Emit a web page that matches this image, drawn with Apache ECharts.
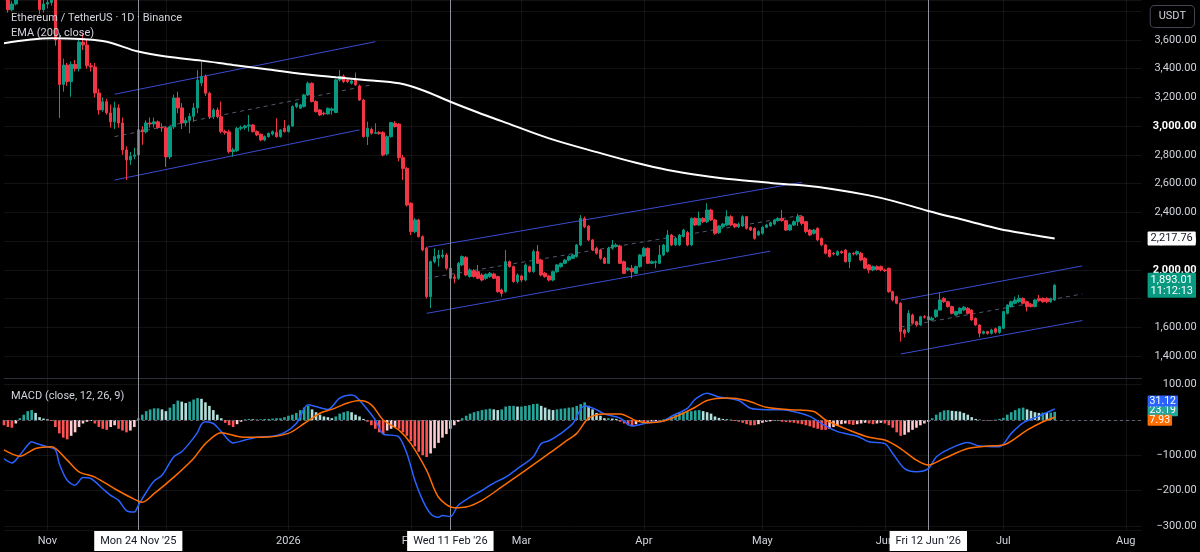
<!DOCTYPE html>
<html>
<head>
<meta charset="utf-8">
<script src="https://cdn.jsdelivr.net/npm/echarts@6/dist/echarts.min.js"></script>
<style>
  html, body { margin: 0; padding: 0; background: #000; }
  #chart { width: 1200px; height: 552px; }
</style>
</head>
<body>
<div id="chart"></div>
<script>
// ETH/USDT daily, first candle 2025-10-21; the axis runs on to 2026-08-05
const startDay = [2025, 9, 21];
const endDay = [2026, 7, 5];

// [open, close, low, high] one row per day
const candles = [
  [3990, 3880, 3840, 4100], [3880, 3810, 3790, 3900], [3810, 3850, 3800, 3870], [3850, 3880, 3840, 3950], [3930, 3950, 3900, 3980],
  [3950, 4160, 3930, 4170], [4160, 4120, 4100, 4250], [4120, 3980, 3900, 4170], [3980, 3900, 3880, 4030], [3900, 3810, 3780, 3920],
  // 10
  [3810, 3850, 3790, 3880], [3850, 3860, 3820, 3880], [3860, 3880, 3840, 3900], [3880, 3600, 3560, 3900], [3600, 3290, 3057, 3650],
  [3290, 3425, 3240, 3470], [3425, 3310, 3280, 3440], [3310, 3430, 3204, 3450], [3430, 3400, 3380, 3460], [3400, 3585, 3380, 3600],
  // 20
  [3585, 3565, 3530, 3650], [3565, 3420, 3400, 3600], [3420, 3412, 3380, 3440], [3412, 3231, 3200, 3440], [3231, 3113, 3080, 3260],
  [3113, 3170, 3100, 3200], [3170, 3092, 3080, 3190], [3092, 3030, 2990, 3150], [3030, 3127, 2980, 3170], [3127, 3022, 2990, 3150],
  // 30
  [3022, 2834, 2800, 3060], [2834, 2765, 2625, 2860], [2765, 2790, 2730, 2820], [2790, 2800, 2770, 2850], [2800, 2975, 2780, 2990],
  [2975, 2960, 2870, 3000], [2960, 3022, 2950, 3040], [3022, 3015, 2990, 3060], [3015, 3030, 2990, 3060], [3030, 2990, 2980, 3040],
  // 40
  [2990, 2988, 2960, 3020], [2988, 2786, 2716, 3000], [2786, 2995, 2770, 3000], [2995, 3196, 2980, 3220], [3196, 3127, 3090, 3240],
  [3127, 3022, 2980, 3160], [3022, 3040, 3000, 3060], [3040, 3068, 2950, 3090], [3068, 3127, 3030, 3160], [3127, 3320, 3090, 3390],
  // 50
  [3300, 3345, 3280, 3449], [3345, 3229, 3210, 3360], [3229, 3066, 3050, 3240], [3066, 3113, 3050, 3125], [3113, 3066, 3055, 3130],
  [3066, 2962, 2950, 3171], [2962, 2955, 2940, 2975], [2960, 2823, 2810, 2975], [2823, 2835, 2788, 2850], [2830, 2985, 2820, 2995],
  // 60
  [2985, 2990, 2970, 3005], [2990, 3001, 2975, 3010], [3001, 3008, 2962, 3078], [3008, 2962, 2955, 3015], [2962, 2939, 2930, 2970],
  [2943, 2904, 2895, 2950], [2904, 2927, 2895, 2935], [2927, 2950, 2920, 2955], [2945, 2962, 2935, 2970], [2955, 2927, 2920, 3055],
  // 70
  [2927, 2973, 2920, 2980], [2985, 2962, 2955, 3043], [2962, 3001, 2955, 3010], [3001, 3136, 2995, 3145], [3136, 3159, 3125, 3165],
  [3125, 3148, 3120, 3155], [3136, 3217, 3130, 3225], [3217, 3298, 3210, 3310], [3298, 3171, 3165, 3305], [3171, 3101, 3095, 3180],
  // 80
  [3113, 3078, 3070, 3120], [3090, 3085, 3075, 3100], [3085, 3124, 3080, 3130], [3110, 3120, 3080, 3130], [3095, 3322, 3090, 3330],
  [3322, 3345, 3310, 3391], [3349, 3310, 3300, 3360], [3322, 3310, 3300, 3330], [3298, 3315, 3290, 3325], [3322, 3287, 3280, 3373],
  // 90
  [3280, 3182, 3175, 3290], [3182, 2927, 2920, 3190], [2927, 2985, 2869, 3031], [2978, 2950, 2940, 2990], [2950, 2955, 2945, 3020],
  [2955, 2948, 2940, 2965], [2955, 2799, 2790, 2965], [2806, 2927, 2795, 2935], [2927, 3025, 2920, 3030], [3020, 2997, 2990, 3035],
  // 100
  [3015, 2780, 2755, 3020], [2780, 2706, 2625, 2800], [2706, 2451, 2440, 2715], [2463, 2266, 2242, 2470], [2266, 2347, 2255, 2360],
  [2347, 2231, 2225, 2355], [2231, 2138, 2130, 2240], [2150, 1813, 1800, 2160], [1813, 2057, 1733, 2065], [2057, 2092, 2045, 2150],
  // 110
  [2080, 2103, 2022, 2138], [2092, 2103, 2080, 2140], [2103, 2011, 2000, 2115], [2011, 1941, 1930, 2020], [1950, 1941, 1906, 1970],
  [1941, 2045, 1930, 2055], [2034, 2092, 2025, 2100], [2087, 1964, 1955, 2095], [1953, 1999, 1945, 2010], [1994, 1953, 1945, 2005],
  // 120
  [1987, 1941, 1935, 2034], [1964, 1929, 1920, 1975], [1941, 1969, 1930, 1975], [1953, 1976, 1945, 1985], [1971, 1941, 1935, 1980],
  [1953, 1848, 1840, 1960], [1860, 1836, 1813, 1870], [1848, 2057, 1840, 2138], [2057, 2022, 2015, 2065], [2022, 1918, 1910, 2030],
  // 130
  [1918, 1964, 1905, 1975], [1957, 1929, 1915, 1965], [1929, 2034, 1920, 2045], [2022, 1987, 1980, 2030], [1987, 2127, 1980, 2140],
  [2127, 2045, 2040, 2173], [2068, 1964, 1955, 2075], [1976, 1953, 1945, 1985], [1957, 1929, 1920, 1965], [1929, 1987, 1920, 1995],
  // 140
  [1987, 2034, 1980, 2040], [2022, 2045, 2015, 2050], [2045, 2068, 2040, 2075], [2068, 2092, 2060, 2100], [2080, 2103, 2075, 2110],
  [2092, 2173, 2085, 2180], [2173, 2358, 2165, 2381], [2358, 2300, 2290, 2370], [2305, 2208, 2200, 2310], [2208, 2138, 2130, 2215],
  // 150
  [2150, 2115, 2105, 2160], [2138, 2080, 2070, 2145], [2080, 2045, 2040, 2090], [2045, 2150, 2040, 2160], [2150, 2173, 2140, 2208],
  [2162, 2173, 2155, 2185], [2166, 2045, 2040, 2175], [2057, 1976, 1970, 2065], [1999, 2011, 1990, 2020], [2011, 1987, 1941, 2034],
  // 160
  [1976, 2022, 1970, 2030], [2022, 2103, 2015, 2110], [2096, 2150, 2090, 2160], [2150, 2045, 2040, 2155], [2045, 2057, 2040, 2065],
  [2050, 2057, 2011, 2065], [2045, 2103, 2040, 2173], [2103, 2173, 2095, 2180], [2127, 2242, 2120, 2277], [2242, 2173, 2165, 2250],
  // 170
  [2173, 2219, 2165, 2230], [2173, 2242, 2165, 2250], [2231, 2277, 2225, 2285], [2260, 2173, 2165, 2270], [2173, 2358, 2165, 2365],
  [2358, 2312, 2305, 2365], [2312, 2358, 2305, 2405], [2358, 2335, 2325, 2365], [2335, 2416, 2325, 2463], [2416, 2347, 2340, 2425],
  // 180
  [2347, 2254, 2245, 2355], [2259, 2305, 2250, 2312], [2300, 2319, 2290, 2325], [2312, 2370, 2305, 2416], [2370, 2312, 2305, 2380],
  [2319, 2300, 2290, 2325], [2300, 2319, 2290, 2330], [2305, 2370, 2300, 2380], [2370, 2289, 2280, 2375], [2296, 2277, 2270, 2300],
  // 190
  [2289, 2219, 2210, 2295], [2242, 2266, 2235, 2275], [2254, 2296, 2245, 2305], [2296, 2312, 2290, 2320], [2305, 2328, 2300, 2335],
  [2319, 2347, 2310, 2355], [2342, 2358, 2335, 2365], [2358, 2342, 2335, 2416], [2342, 2277, 2270, 2350], [2277, 2312, 2270, 2320],
  // 200
  [2312, 2335, 2305, 2345], [2335, 2370, 2305, 2390], [2370, 2323, 2310, 2380], [2335, 2266, 2255, 2340], [2277, 2242, 2235, 2285],
  [2254, 2277, 2245, 2285], [2289, 2208, 2200, 2295], [2219, 2173, 2165, 2225], [2173, 2115, 2108, 2180], [2138, 2092, 2085, 2145],
  // 210
  [2115, 2110, 2100, 2125], [2103, 2127, 2095, 2135], [2127, 2118, 2110, 2135], [2138, 2057, 2050, 2145], [2057, 2115, 2011, 2122],
  [2115, 2110, 2100, 2122], [2110, 2127, 2100, 2135], [2115, 2068, 2060, 2125], [2080, 2011, 2005, 2088], [2034, 1999, 1976, 2040],
  // 220
  [1999, 2022, 1990, 2030], [2022, 2003, 1995, 2030], [2022, 1999, 1990, 2030], [1999, 1995, 1985, 2008], [2011, 1848, 1840, 2015],
  [1848, 1790, 1780, 1855], [1813, 1767, 1760, 1820], [1767, 1570, 1500, 1775], [1581, 1558, 1530, 1590], [1570, 1697, 1560, 1720],
  // 230
  [1685, 1628, 1620, 1695], [1639, 1616, 1605, 1645], [1616, 1674, 1610, 1680], [1674, 1670, 1660, 1685], [1674, 1651, 1640, 1685],
  [1651, 1663, 1645, 1675], [1674, 1720, 1665, 1725], [1720, 1790, 1715, 1839], [1801, 1778, 1770, 1810], [1778, 1744, 1735, 1785],
  // 240
  [1744, 1697, 1690, 1750], [1685, 1709, 1680, 1715], [1697, 1732, 1690, 1740], [1720, 1740, 1712, 1748], [1732, 1697, 1690, 1740],
  [1720, 1651, 1645, 1725], [1662, 1616, 1610, 1668], [1616, 1558, 1530, 1622], [1558, 1570, 1550, 1578], [1570, 1558, 1548, 1575],
  // 250
  [1558, 1581, 1550, 1590], [1590, 1565, 1555, 1598], [1563, 1605, 1555, 1610], [1593, 1709, 1588, 1715], [1697, 1755, 1690, 1760],
  [1744, 1778, 1738, 1785], [1767, 1790, 1760, 1813], [1778, 1801, 1770, 1825], [1801, 1767, 1760, 1808], [1778, 1744, 1710, 1785],
  // 260
  [1760, 1744, 1738, 1768], [1744, 1790, 1738, 1795], [1801, 1785, 1778, 1825], [1801, 1778, 1770, 1808], [1801, 1778, 1767, 1808],
  [1778, 1800, 1770, 1806], [1790, 1893.01, 1785, 1900]
];

// EMA(200)
const ema = [
  ['2025-10-21', 3577], ['2025-11-02', 3612], ['2025-11-15', 3592], ['2025-11-24', 3519], ['2025-12-01', 3484],
  ['2025-12-10', 3456], ['2025-12-18', 3426], ['2025-12-27', 3395], ['2026-01-04', 3365], ['2026-01-13', 3340],
  ['2026-01-21', 3320], ['2026-01-29', 3298], ['2026-02-04', 3250], ['2026-02-11', 3170], ['2026-02-18', 3095],
  ['2026-02-24', 3035], ['2026-03-08', 2915], ['2026-03-21', 2812], ['2026-03-30', 2745], ['2026-04-07', 2695],
  ['2026-04-16', 2655], ['2026-04-24', 2628], ['2026-05-03', 2605], ['2026-05-11', 2588], ['2026-05-19', 2561],
  ['2026-05-28', 2518], ['2026-06-03', 2480], ['2026-06-12', 2410], ['2026-06-22', 2340], ['2026-06-30', 2284],
  ['2026-07-08', 2245], ['2026-07-14', 2217.76]
];

// parallel channels: upper, middle (dashed), lower
const channelUpper = [
  [['2025-11-18', 3222], ['2026-01-23', 3588]],
  [['2026-02-05', 2157], ['2026-05-11', 2609]],
  [['2026-06-05', 1790], ['2026-07-21', 2027]]
];
const channelMid = [
  [['2025-11-18', 2927], ['2026-01-22', 3287]],
  [['2026-02-05', 1941], ['2026-05-11', 2380]],
  [['2026-06-05', 1602], ['2026-07-21', 1832]]
];
const channelLower = [
  [['2025-11-18', 2625], ['2026-01-19', 2974]],
  [['2026-02-05', 1697], ['2026-05-03', 2130]],
  [['2026-06-05', 1414], ['2026-07-21', 1647]]
];

// MACD (12, 26, 9)
const macdLine = [
  ['2025-10-21', -110], ['2025-10-23', -122], ['2025-10-25', -100], ['2025-10-27', -71], ['2025-10-28', -62],
  ['2025-10-29', -66], ['2025-11-01', -76], ['2025-11-03', -85], ['2025-11-04', -124], ['2025-11-06', -171],
  ['2025-11-08', -185], ['2025-11-10', -163], ['2025-11-12', -166], ['2025-11-15', -195], ['2025-11-17', -214],
  ['2025-11-19', -228], ['2025-11-21', -257], ['2025-11-23', -261], ['2025-11-24', -242], ['2025-11-26', -205],
  ['2025-11-28', -173], ['2025-11-30', -157], ['2025-12-03', -104], ['2025-12-05', -90], ['2025-12-07', -65],
  ['2025-12-09', -35], ['2025-12-10', -12], ['2025-12-11', -5], ['2025-12-13', -10], ['2025-12-15', -33],
  ['2025-12-18', -65], ['2025-12-21', -57], ['2025-12-24', -49], ['2025-12-28', -46], ['2025-12-31', -36],
  ['2026-01-03', -10], ['2026-01-06', 43], ['2026-01-08', 38], ['2026-01-11', 30], ['2026-01-14', 62],
  ['2026-01-17', 71], ['2026-01-18', 67], ['2026-01-20', 43], ['2026-01-23', 0], ['2026-01-25', -40],
  ['2026-01-27', -43], ['2026-01-29', -48], ['2026-01-31', -95], ['2026-02-02', -171], ['2026-02-04', -228],
  ['2026-02-06', -266], ['2026-02-08', -276], ['2026-02-09', -271], ['2026-02-11', -274], ['2026-02-13', -242],
  ['2026-02-16', -219], ['2026-02-19', -200], ['2026-02-22', -179], ['2026-02-25', -162], ['2026-02-28', -138],
  ['2026-03-04', -104], ['2026-03-06', -67], ['2026-03-08', -59], ['2026-03-11', -38], ['2026-03-14', -10],
  ['2026-03-17', 40], ['2026-03-20', 29], ['2026-03-22', 17], ['2026-03-26', 5], ['2026-03-29', -17],
  ['2026-04-02', -8], ['2026-04-06', -3], ['2026-04-08', 11], ['2026-04-12', 33], ['2026-04-14', 59],
  ['2026-04-17', 76], ['2026-04-20', 65], ['2026-04-25', 55], ['2026-04-28', 33], ['2026-05-02', 29],
  ['2026-05-06', 29], ['2026-05-10', 21], ['2026-05-13', 10], ['2026-05-17', -17], ['2026-05-20', -33],
  ['2026-05-25', -46], ['2026-05-28', -62], ['2026-06-01', -67], ['2026-06-03', -95], ['2026-06-06', -138],
  ['2026-06-09', -147], ['2026-06-12', -138], ['2026-06-14', -105], ['2026-06-17', -84], ['2026-06-22', -64],
  ['2026-06-25', -74], ['2026-06-30', -76], ['2026-07-03', -38], ['2026-07-06', -8], ['2026-07-10', 11],
  ['2026-07-14', 31.12]
];
const signalLine = [
  ['2025-10-21', -85], ['2025-10-25', -103], ['2025-10-29', -81], ['2025-11-02', -76], ['2025-11-06', -114],
  ['2025-11-09', -147], ['2025-11-13', -162], ['2025-11-18', -195], ['2025-11-22', -219], ['2025-11-25', -233],
  ['2025-11-28', -209], ['2025-12-03', -162], ['2025-12-08', -109], ['2025-12-11', -67], ['2025-12-15', -36],
  ['2025-12-20', -48], ['2025-12-25', -49], ['2026-01-01', -38], ['2026-01-05', -10], ['2026-01-09', 19],
  ['2026-01-12', 30], ['2026-01-16', 48], ['2026-01-19', 55], ['2026-01-22', 43], ['2026-01-25', 0],
  ['2026-01-29', -29], ['2026-02-01', -67], ['2026-02-05', -143], ['2026-02-08', -219], ['2026-02-12', -249],
  ['2026-02-15', -247], ['2026-02-19', -228], ['2026-02-24', -190], ['2026-03-02', -143], ['2026-03-08', -95],
  ['2026-03-12', -62], ['2026-03-15', -38], ['2026-03-18', 5], ['2026-03-22', 17], ['2026-03-26', 17],
  ['2026-03-30', -2], ['2026-04-02', -8], ['2026-04-06', -3], ['2026-04-10', 14], ['2026-04-14', 36],
  ['2026-04-17', 55], ['2026-04-22', 62], ['2026-04-27', 55], ['2026-05-02', 36], ['2026-05-08', 29],
  ['2026-05-14', 24], ['2026-05-17', 0], ['2026-05-23', -29], ['2026-05-28', -49], ['2026-06-01', -57],
  ['2026-06-05', -81], ['2026-06-09', -114], ['2026-06-12', -128], ['2026-06-16', -109], ['2026-06-22', -81],
  ['2026-06-27', -74], ['2026-07-01', -71], ['2026-07-07', -29], ['2026-07-11', -5], ['2026-07-14', 7.93]
];
// histogram, one value per candle
const hist = [
  -15, -20, -22, -10, 5, 15, 25, 28, 20, 8,
  4, 2, -3, -20, -38, -50, -55, -45, -35, -20,
  -10, -5, -3, -10, -20, -25, -28, -20, -15, -25,
  -30, -35, -30, -20, 5, 15, 25, 30, 33, 33,
  30, 25, 35, 45, 55, 52, 48, 52, 58, 62,
  60, 50, 40, 28, 15, 5, -8, -15, -20, -12,
  -5, 2, 3, 2, 1, 2, 3, 3, 4, 5,
  5, 8, 12, 15, 20, 28, 35, 40, 30, 22,
  15, 10, 8, 5, 10, 18, 22, 25, 22, 15,
  10, 3, -5, -15, -25, -35, -40, -30, -25, -20,
  -25, -35, -45, -60, -75, -90, -100, -105, -95, -80,
  -65, -50, -40, -25, -15, -5, 5, 12, 18, 22,
  25, 28, 30, 32, 30, 28, 30, 38, 40, 40,
  38, 38, 40, 42, 45, 46, 40, 35, 30, 28,
  30, 32, 33, 35, 36, 40, 45, 50, 40, 30,
  20, 12, 5, 5, 4, 3, -5, -10, -15, -17,
  -12, -5, -6, -5, -4, -3, -2, 2, 5, 10,
  15, 20, 22, 25, 25, 27, 28, 25, 22, 18,
  10, 6, 3, 2, 1, -3, -5, -8, -12, -15,
  -15, -12, -8, -5, -4, -3, -3, -5, -6, -7,
  -8, -10, -12, -15, -18, -22, -25, -28, -28, -25,
  -20, -15, -12, -10, -12, -14, -12, -10, -8, -10,
  -12, -10, -8, -10, -15, -22, -35, -45, -42, -35,
  -28, -22, -15, -10, -5, 5, 15, 22, 27, 28,
  26, 25, 24, 20, 15, 8, 3, 1, -1, -2,
  -1, 1, 3, 6, 15, 22, 28, 33, 35, 30,
  26, 22, 20, 21, 20, 21, 23.19
];

const lastPrice = 1893.01, lastEma = 2217.76, countdown = '11:12:13';
const lastMacd = 31.12, lastHist = 23.19, lastSignal = 7.93;

const monthTicks = [
  ['2025-11-01', 'Nov'], ['2026-01-01', '2026'], ['2026-02-01', 'Feb'], ['2026-03-01', 'Mar'],
  ['2026-04-01', 'Apr'], ['2026-05-01', 'May'], ['2026-06-01', 'Jun'], ['2026-07-01', 'Jul'], ['2026-08-01', 'Aug']
];
const gridMonths = ['2025-11-01', '2025-12-01', '2026-01-01', '2026-02-01', '2026-03-01', '2026-04-01',
  '2026-05-01', '2026-06-01', '2026-07-01', '2026-08-01'];
const markers = [['2025-11-24', "Mon 24 Nov '25"], ['2026-02-11', "Wed 11 Feb '26"], ['2026-06-12', "Fri 12 Jun '26"]];
// price ticks hidden behind the USDT box and the last-price label
const hiddenPriceTicks = [3800, 1800];

// ---------------------------------------------------------------
const font = 'Roboto, "Noto Sans", sans-serif';
const up = '#089981', down = '#f23645';
const gridColor = 'rgba(255,255,255,0.07)';
const textColor = '#d1d4dc';

const days = [];
for (let t = Date.UTC(...startDay); t <= Date.UTC(...endDay); t += 864e5) {
  days.push(new Date(t).toISOString().slice(0, 10));
}

const labelMap = {};
monthTicks.forEach(([d, s]) => { labelMap[d] = '{m|' + s + '}'; });
markers.forEach(([d, s]) => { labelMap[d] = '{box|' + s + '}'; });
const gridSet = new Set(gridMonths);

const fmtPrice = v => v.toLocaleString('en-US', { minimumFractionDigits: 2, maximumFractionDigits: 2 });
const fmtMacd = v => (v < 0 ? '\u2212' : '') + Math.abs(v).toFixed(2);

function histColor(v, i) {
  const prev = i > 0 ? hist[i - 1] : v;
  if (v >= 0) return v >= prev ? '#26a69a' : '#b2dfdb';
  return v <= prev ? '#ff5252' : '#ffcdd2';
}

function sideLabel(value, text, bg, fg, extra) {
  return {
    yAxis: value,
    lineStyle: { color: 'rgba(0,0,0,0)', width: 0 },
    label: Object.assign({
      show: true, position: 'end', distance: 6, formatter: text,
      backgroundColor: bg, color: fg, padding: [2, 3, 1, 3],
      fontSize: 11, fontFamily: font, borderRadius: 1
    }, extra || {})
  };
}

const vLines = markers.map(([d]) => ({
  xAxis: d, lineStyle: { color: '#8f929b', width: 1, type: 'solid' }, label: { show: false }
}));

function channelSeries(list, dashed) {
  return list.map(pts => ({
    type: 'line', xAxisIndex: 0, yAxisIndex: 0, data: pts,
    symbol: 'none', silent: true, z: 3,
    lineStyle: dashed
      ? { color: 'rgba(150,160,200,0.55)', width: 1, type: [4, 4] }
      : { color: '#3a4bd0', width: 1 }
  }));
}

const xBase = {
  type: 'category', data: days, boundaryGap: false,
  axisTick: { show: false },
  splitLine: { show: true, interval: (i, v) => gridSet.has(v), lineStyle: { color: gridColor } }
};

const titleStyle = { color: textColor, fontSize: 11, fontWeight: 'normal', fontFamily: font };

const chart = echarts.init(document.getElementById('chart'), null, { renderer: 'canvas' });
chart.setOption({
  backgroundColor: '#000',
  animation: false,
  textStyle: { fontFamily: font },
  title: [
    { text: 'Ethereum / TetherUS \u00b7 1D \u00b7 Binance', left: 6, top: 8, textStyle: titleStyle },
    { text: 'EMA (200, close)', left: 6, top: 23, textStyle: titleStyle },
    { text: 'MACD (close, 12, 26, 9)', left: 6, top: 386, textStyle: titleStyle }
  ],
  graphic: [{
    type: 'text', right: 5, top: 5, silent: true, z: 100,
    style: {
      text: 'USDT', fill: textColor, fontSize: 11, fontFamily: font,
      backgroundColor: '#000', borderColor: '#434651', borderWidth: 1, borderRadius: 4, padding: [5, 8]
    }
  }],
  grid: [
    { left: 4, right: 58.4, top: 0, height: 378 },
    { left: 4, right: 58.4, top: 378, height: 152 }
  ],
  xAxis: [
    Object.assign({}, xBase, {
      gridIndex: 0,
      axisLine: { show: true, lineStyle: { color: '#2a2e39' } },
      axisLabel: { show: false }
    }),
    Object.assign({}, xBase, {
      gridIndex: 1,
      axisLine: { show: false },
      axisLabel: {
        show: true, margin: 1,
        interval: (i, v) => v in labelMap,
        formatter: v => labelMap[v] || '',
        rich: {
          m: { color: textColor, fontSize: 11, fontFamily: font, padding: [5, 0, 4, 0] },
          box: { color: '#131722', backgroundColor: '#ffffff', fontSize: 11, fontFamily: font, padding: [5, 6, 4, 6] }
        }
      }
    })
  ],
  yAxis: [
    {
      type: 'value', gridIndex: 0, position: 'right', min: 1247, max: 3878, splitNumber: 13,
      axisLine: { show: false }, axisTick: { show: false },
      splitLine: { lineStyle: { color: gridColor } },
      axisLabel: {
        showMinLabel: false, showMaxLabel: false, align: 'right', margin: 55,
        color: textColor, fontSize: 11, fontFamily: font,
        formatter: v => hiddenPriceTicks.includes(v) ? '' : (v % 1000 === 0 ? '{b|' + fmtPrice(v) + '}' : fmtPrice(v)),
        rich: { b: { color: '#ffffff', fontSize: 11, fontWeight: 'bold', fontFamily: font } }
      }
    },
    {
      type: 'value', gridIndex: 1, position: 'right', min: -312, max: 119, splitNumber: 4,
      axisLine: { show: false }, axisTick: { show: false },
      splitLine: { lineStyle: { color: gridColor } },
      axisLabel: {
        showMinLabel: false, showMaxLabel: false, align: 'right', margin: 55,
        color: textColor, fontSize: 11, fontFamily: font,
        formatter: v => v === 0 ? '' : fmtMacd(v)
      }
    }
  ],
  series: [
    {
      type: 'candlestick', name: 'ETHUSDT', xAxisIndex: 0, yAxisIndex: 0,
      data: candles, barWidth: 3, z: 4,
      itemStyle: { color: up, color0: down, borderColor: up, borderColor0: down, borderWidth: 1 },
      markLine: {
        symbol: 'none', silent: true, animation: false,
        data: vLines.concat([
          sideLabel(lastPrice, '{p|' + fmtPrice(lastPrice) + '}\n{t|' + countdown + '}', up, '#fff', {
            padding: [2, 3, 1, 3],
            rich: { p: { fontSize: 11, fontFamily: font, color: '#fff', lineHeight: 11 }, t: { fontSize: 11, fontFamily: font, color: '#fff', lineHeight: 11 } }
          })
        ])
      }
    },
    {
      type: 'line', name: 'EMA', xAxisIndex: 0, yAxisIndex: 0, data: ema,
      symbol: 'none', smooth: 0.35, z: 5, silent: true,
      lineStyle: { color: '#ffffff', width: 2 },
      markLine: { symbol: 'none', silent: true, animation: false, data: [sideLabel(lastEma, fmtPrice(lastEma), '#ffffff', '#131722')] }
    },
    ...channelSeries(channelUpper, false),
    ...channelSeries(channelMid, true),
    ...channelSeries(channelLower, false),
    {
      type: 'bar', name: 'Histogram', xAxisIndex: 1, yAxisIndex: 1, barWidth: 2.6,
      data: hist.map((v, i) => ({ value: v, itemStyle: { color: histColor(v, i) } })),
      markLine: {
        symbol: 'none', silent: true, animation: false,
        data: [
          { yAxis: 0, lineStyle: { color: '#5d606b', width: 1, type: [3, 3] }, label: { show: false } }
        ].concat(vLines, [sideLabel(lastHist, fmtMacd(lastHist), '#26a69a', '#fff', { fontSize: 10.5, padding: [0, 2], offset: [0, -1] })])
      }
    },
    {
      type: 'line', name: 'MACD', xAxisIndex: 1, yAxisIndex: 1, data: macdLine,
      symbol: 'none', smooth: 0.3, z: 5, silent: true,
      lineStyle: { color: '#2962ff', width: 1.5 },
      markLine: { symbol: 'none', silent: true, animation: false, data: [sideLabel(lastMacd, fmtMacd(lastMacd), '#2962ff', '#fff', { fontSize: 10.5, padding: [0, 2], offset: [0, -8] })] }
    },
    {
      type: 'line', name: 'Signal', xAxisIndex: 1, yAxisIndex: 1, data: signalLine,
      symbol: 'none', smooth: 0.3, z: 5, silent: true,
      lineStyle: { color: '#ff6d00', width: 1.5 },
      markLine: { symbol: 'none', silent: true, animation: false, data: [sideLabel(lastSignal, fmtMacd(lastSignal), '#ff6d00', '#fff', { fontSize: 10.5, padding: [0, 2], offset: [0, 3] })] }
    }
  ]
});
</script>
</body>
</html>
